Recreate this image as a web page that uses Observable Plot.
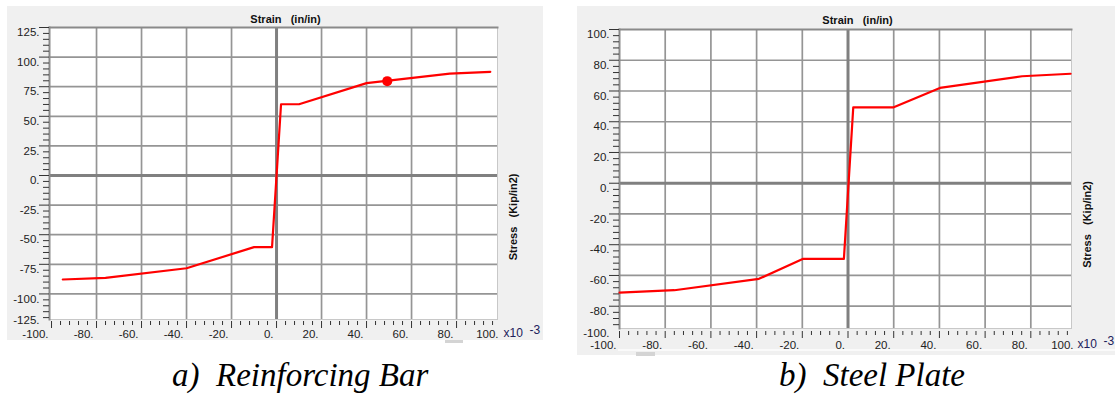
<!DOCTYPE html>
<html><head><meta charset="utf-8">
<script src="https://cdn.jsdelivr.net/npm/d3@7"></script>
<script src="https://cdn.jsdelivr.net/npm/@observablehq/plot@0.6"></script>
<style>
body{margin:0;background:#fff;width:1115px;height:395px;position:relative;overflow:hidden;font-family:"Liberation Sans",Arial,sans-serif}
.panel{position:absolute;background:#f0f0f0}
.panel svg{position:absolute;left:0;top:0;overflow:visible}
.cap{position:absolute;font-family:"Liberation Serif","Times New Roman",serif;font-style:italic;font-size:33px;white-space:pre;color:#000;line-height:1}
.bit{position:absolute;background:#d4d4d4}
</style></head><body>
<div id="pa" class="panel" style="left:7px;top:6px;width:536px;height:334px"></div>
<div id="pb" class="panel" style="left:577px;top:6px;width:538px;height:349px"></div>
<div class="bit" style="left:445px;top:340px;width:18px;height:3px"></div>
<div style="position:absolute;left:618px;top:349px;width:497px;height:2px;background:#fafafa"></div>
<div class="bit" style="left:636px;top:352px;width:19px;height:4px"></div>
<div class="cap" style="left:172px;top:359px">a)  Reinforcing Bar</div>
<div class="cap" style="left:779px;top:359px">b)  Steel Plate</div>
<script>
// ---------- data (strain in 10^-3 in/in, stress in kip/in2) ----------
const barStrain   = [-95, -76, -40, -10, -2, 2, 10, 40, 77, 95];
const barStress   = [-87.8, -86.4, -78.3, -60.5, -60.5, 60.2, 60.2, 78, 86.1, 87.6];
const barMarkerStrain = [49.2];
const barMarkerStress = [79.7];

const plateStrain = [-100, -76, -39, -19.6, -1.8, 2.3, 20, 40.2, 76.2, 97.4];
const plateStress = [-71.1, -69.6, -62.2, -49.2, -49.2, 49.4, 49.4, 62, 69.6, 71.2];

const xTickLabels  = [-100, -80, -60, -40, -20, 0, 20, 40, 60, 80, 100];
const barYLabels   = [125, 100, 75, 50, 25, 0, -25, -50, -75, -100, -125];
const plateYLabels = [100, 80, 60, 40, 20, 0, -20, -40, -60, -80, -100];

const xTitle = "Strain\u00a0\u00a0\u00a0(in/in)";
const yTitle = "Stress\u00a0\u00a0\u00a0(Kip/in2)";

function panel(cfg) {
  const {width, height, margins, xDomain, yDomain, yLabels, yStep, yMinorStep,
         strain, stress, mStrain, mStress, tickDy, labelPad, bottomDy, titleDy, sideDy} = cfg;
  const inX = v => v >= xDomain[0] && v <= xDomain[1];
  const inY = v => v >= yDomain[0] && v <= yDomain[1];
  const xGrid = xTickLabels.filter(v => v !== 0 && inX(v) && v > xDomain[0] + 1);
  const yGrid = yLabels.filter(v => v !== 0 && inY(v) && v < yDomain[1] - 1 && v > yDomain[0] + 1);
  const xMinor = d3.range(-100, 101, 4).filter(v => v % 20 !== 0 && inX(v));
  const xMajor = xTickLabels.filter(inX);
  const yMinor = d3.range(-200, 201, yMinorStep).filter(v => v % yStep !== 0 && inY(v));
  const yMajor = yLabels.filter(inY);
  const yMain = yLabels.slice(0, -1);
  const yLast = yLabels.slice(-1);
  const idx = d3.range(strain.length);
  const fmt = d => d + ".";
  return Plot.plot({
    width, height, ...margins,
    style: {background: "transparent", fontFamily: "Liberation Sans, Arial, sans-serif", fontSize: "11.5px", color: "#222", overflow: "visible"},
    x: {domain: xDomain, axis: null},
    y: {domain: yDomain, axis: null},
    marks: [
      Plot.frame({fill: "white", stroke: "#c8c8c8", strokeWidth: 1}),
      Plot.gridX(xGrid, {stroke: "#959595", strokeOpacity: 1, strokeWidth: 1.7}),
      Plot.gridY(yGrid, {stroke: "#959595", strokeOpacity: 1, strokeWidth: 1.7}),
      Plot.ruleX([0], {stroke: "#808080", strokeWidth: 3}),
      Plot.ruleY([0], {stroke: "#808080", strokeWidth: 3}),
      Plot.frame({anchor: "top", stroke: "#8a8a8a", strokeWidth: 2}),
      Plot.frame({anchor: "left", stroke: "#8a8a8a", strokeWidth: 2}),
      Plot.line(idx, {x: i => strain[i], y: i => stress[i], stroke: "#ff0000", strokeWidth: 2.2}),
      mStrain ? Plot.dot(d3.range(mStrain.length), {x: i => mStrain[i], y: i => mStress[i], r: 5, fill: "#ff0000", stroke: "none"}) : null,
      // y ticks
      Plot.axisY(yMinor, {anchor: "left", tickSize: 6, fill: "none", stroke: "#333", label: null}),
      Plot.axisY(yMajor, {anchor: "left", tickSize: 10, fill: "none", stroke: "#333", label: null}),
      Plot.axisY(yMain, {anchor: "left", tickSize: 9, tickPadding: 1, stroke: "none", fill: "#222", dy: 5, tickFormat: fmt, label: null}),
      Plot.axisY(yLast, {anchor: "left", tickSize: 9, tickPadding: 1, stroke: "none", fill: "#222", dy: bottomDy, tickFormat: fmt, label: null}),
      // x ticks
      Plot.axisX(xMinor, {anchor: "bottom", tickSize: 4, fill: "none", stroke: "#333", dy: tickDy, label: null}),
      Plot.axisX(xMajor, {anchor: "bottom", tickSize: 7, fill: "none", stroke: "#333", dy: tickDy, label: null}),
      Plot.axisX(xTickLabels, {anchor: "bottom", tickSize: 0, tickPadding: labelPad, stroke: "none", fill: "#222", textAnchor: "end", dx: -3, tickFormat: fmt, label: null}),
      Plot.text(["x10"], {frameAnchor: "bottom-right", textAnchor: "start", lineAnchor: "top", dx: 6, dy: labelPad - 1, fill: "#20205a", fontSize: 12}),
      Plot.text(["-3"], {frameAnchor: "bottom-right", textAnchor: "start", lineAnchor: "top", dx: 32, dy: labelPad - 4, fill: "#20205a", fontSize: 12}),
      // titles
      Plot.text([xTitle], {frameAnchor: "top", dy: titleDy, dx: 12, fontWeight: "bold", fontSize: 11, fill: "#111"}),
      Plot.text([yTitle], {frameAnchor: "right", rotate: -90, dx: 16, dy: sideDy, fontWeight: "bold", fontSize: 11, fill: "#111"})
    ]
  });
}

document.getElementById("pa").append(panel({
  width: 536, height: 334,
  margins: {marginLeft: 42, marginRight: 46, marginTop: 21, marginBottom: 21},
  xDomain: [-100.9, 98.2], yDomain: [-121.6, 125],
  yLabels: barYLabels, yStep: 25, yMinorStep: 5,
  strain: barStrain, stress: barStress, mStrain: barMarkerStrain, mStress: barMarkerStress,
  tickDy: 2, labelPad: 10, bottomDy: -3, titleDy: -12, sideDy: 0
}));

document.getElementById("pb").append(panel({
  width: 538, height: 349,
  margins: {marginLeft: 42, marginRight: 44, marginTop: 23, marginBottom: 27},
  xDomain: [-100, 97.8], yDomain: [-94.5, 100],
  yLabels: plateYLabels, yStep: 20, yMinorStep: 4,
  strain: plateStrain, stress: plateStress,
  tickDy: 3, labelPad: 12, bottomDy: -4, titleDy: -13, sideDy: 2
}));
</script>
</body></html>
